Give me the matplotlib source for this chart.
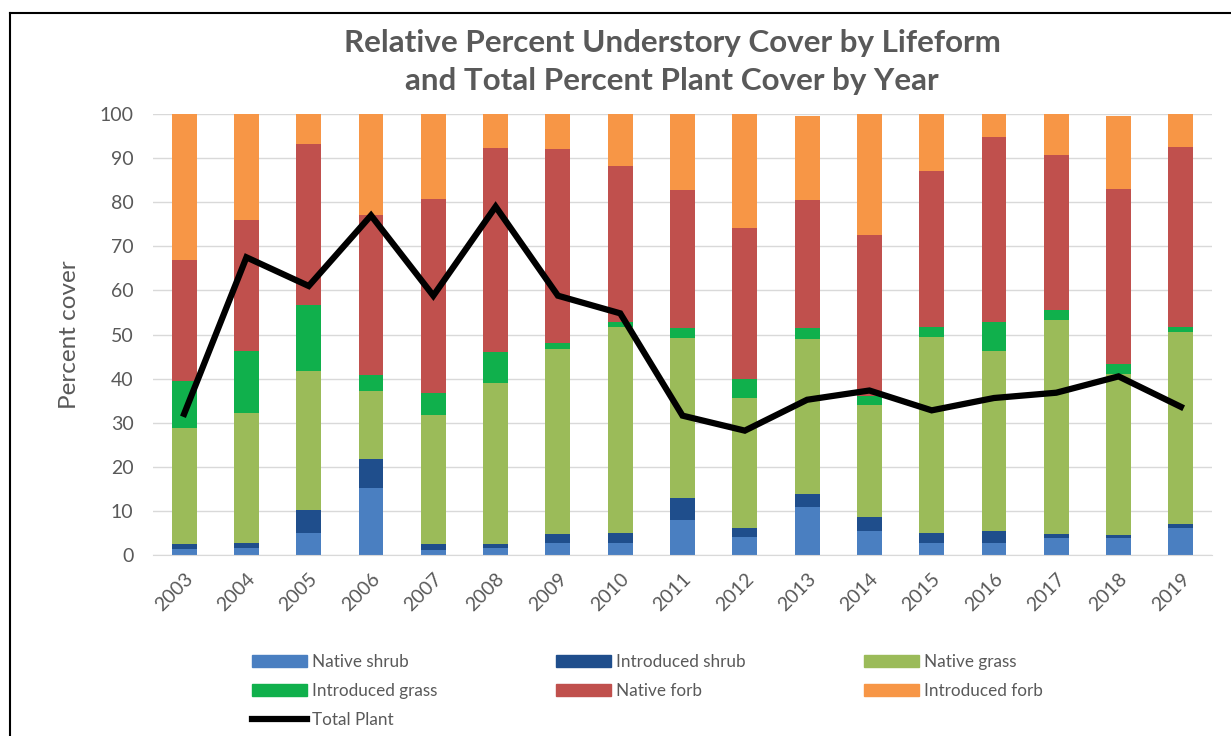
import matplotlib
matplotlib.use("Agg")
import matplotlib.pyplot as plt
import numpy as np
from matplotlib.patches import Rectangle
from matplotlib.lines import Line2D

years = ["2003", "2004", "2005", "2006", "2007", "2008", "2009", "2010", "2011",
         "2012", "2013", "2014", "2015", "2016", "2017", "2018", "2019"]
native_shrub = [1.3, 1.7, 5.1, 15.3, 1.1, 1.7, 2.8, 2.8, 7.9, 4.1, 10.9, 5.5, 2.8, 2.8, 3.8, 3.9, 6.2]
introduced_shrub = [1.1, 1.0, 5.1, 6.4, 1.5, 0.9, 1.9, 2.3, 5.0, 2.1, 3.0, 3.1, 2.3, 2.7, 1.0, 0.6, 0.8]
native_grass = [26.5, 29.6, 31.6, 15.4, 29.1, 36.3, 42.0, 46.6, 36.3, 29.4, 35.1, 25.5, 44.4, 40.7, 48.4, 36.6, 43.5]
introduced_grass = [10.6, 13.9, 14.8, 3.8, 5.0, 7.1, 1.3, 1.1, 2.3, 4.3, 2.5, 2.0, 2.3, 6.6, 2.4, 2.2, 1.2]
native_forb = [27.5, 29.8, 36.7, 36.1, 44.1, 46.4, 44.0, 35.4, 31.2, 34.3, 29.0, 36.4, 35.2, 42.0, 35.0, 39.8, 40.9]
introduced_forb = [33.0, 24.0, 6.7, 23.0, 19.2, 7.6, 8.0, 11.8, 17.3, 25.8, 19.0, 27.5, 13.0, 5.2, 9.4, 16.4, 7.4]
total_plant = [32.0, 67.5, 61.0, 77.0, 58.8, 79.0, 58.8, 54.8, 31.6, 28.2, 35.2, 37.3, 32.8, 35.6, 36.8, 40.5, 33.6]

series = [
    ("Native shrub", native_shrub, "#4a7fc1"),
    ("Introduced shrub", introduced_shrub, "#1f4e8c"),
    ("Native grass", native_grass, "#9bbb59"),
    ("Introduced grass", introduced_grass, "#10b04c"),
    ("Native forb", native_forb, "#c0504d"),
    ("Introduced forb", introduced_forb, "#f79646"),
]

FONT = ["Lato", "DejaVu Sans"]
GRAY = "#595959"

fig = plt.figure(figsize=(12.31, 7.36), dpi=100)
ax = fig.add_axes([153/1231, 1 - 555/736, (1212-153)/1231, (555-114)/736])

x = np.arange(len(years))
bottom = np.zeros(len(years))
handles = {}
for name, vals, col in series:
    ax.bar(x, vals, width=0.4, bottom=bottom, color=col, zorder=2)
    bottom += np.array(vals)
    handles[name] = Rectangle((0, 0), 1, 1, color=col, label=name)

ax.plot(x, total_plant, color="black", lw=4.5, zorder=3, solid_joinstyle="miter")
handles["Total Plant"] = Line2D([], [], color="black", lw=4.5, label="Total Plant")

ax.set_xlim(-0.5, len(years) - 0.5)
ax.set_ylim(0, 100)
ax.set_yticks(np.arange(0, 101, 10))
ax.grid(axis="y", color="#d9d9d9", lw=1, zorder=0)
for s in ["top", "right", "left"]:
    ax.spines[s].set_visible(False)
ax.spines["bottom"].set_color("#d9d9d9")
ax.tick_params(length=0, colors=GRAY, labelsize=14, pad=14)
ax.set_xticks(x)
ax.set_xticklabels(years, rotation=45, ha="right", rotation_mode="anchor", family=FONT)
for lbl in ax.get_yticklabels():
    lbl.set_family(FONT)
ax.tick_params(axis="x", pad=11)
ax.set_ylabel("Percent cover", fontsize=17.5, color=GRAY, family=FONT, labelpad=14)

fig.text(672/1231, 1 - 62/736, "Relative Percent Understory Cover by Lifeform\nand Total Percent Plant Cover by Year",
         ha="center", va="center", fontsize=22.6, fontweight="bold", color=GRAY, family=FONT,
         linespacing=1.42)

order = ["Native shrub", "Introduced grass", "Total Plant",
         "Introduced shrub", "Native forb",
         "Native grass", "Introduced forb"]
leg = fig.legend(handles=[handles[k] for k in order], loc="upper left",
                 bbox_to_anchor=(252/1231, 1 - 654/736),
                 ncol=3, frameon=False, handlelength=3.2, handleheight=0.7,
                 columnspacing=6.95, labelspacing=0.75, handletextpad=0.3,
                 borderaxespad=0, borderpad=0,
                 prop={"family": FONT, "size": 12.3})
for t in leg.get_texts():
    t.set_color(GRAY)

# outer border (top and left visible in reference)
fig.add_artist(Line2D([10/1231, 1], [1 - 13/736, 1 - 13/736], color="black", lw=1.5, transform=fig.transFigure))
fig.add_artist(Line2D([10/1231, 10/1231], [0, 1 - 13/736], color="black", lw=1.5, transform=fig.transFigure))

fig.savefig("out.png", dpi=100)
